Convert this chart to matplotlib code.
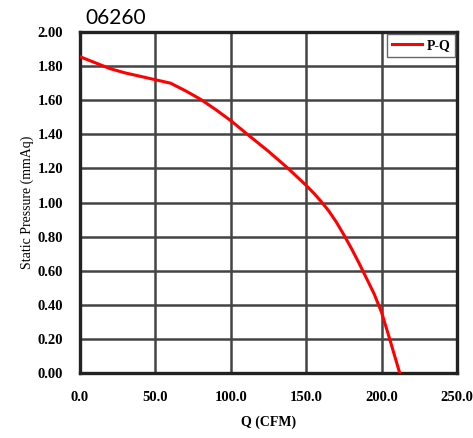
import matplotlib
matplotlib.use("Agg")
import matplotlib.pyplot as plt

# P-Q curve
flow_cfm = [0, 10, 20, 30, 40, 50, 60, 70, 80, 90, 100, 111, 125, 138,
            150, 155, 160, 165, 170, 175, 180, 185, 190, 195, 200, 205, 212]
pressure = [1.855, 1.82, 1.785, 1.76, 1.74, 1.72, 1.70, 1.655, 1.605, 1.545, 1.48, 1.40, 1.30, 1.20,
            1.10, 1.055, 1.005, 0.95, 0.885, 0.81, 0.73, 0.645, 0.555, 0.465, 0.355, 0.21, 0.00]

x_ticks = [0, 50, 100, 150, 200, 250]
y_ticks = [0.0, 0.2, 0.4, 0.6, 0.8, 1.0, 1.2, 1.4, 1.6, 1.8, 2.0]

serif = ['Liberation Serif', 'DejaVu Serif']

fig = plt.figure(figsize=(4.73, 4.38), dpi=100)
ax = fig.add_axes([80 / 473, 1 - 373 / 438, 377 / 473, 341 / 438])

ax.plot(flow_cfm, pressure, color='#ff0000', linewidth=2.2, label='P-Q', zorder=3)

ax.set_xlim(0, 250)
ax.set_ylim(0, 2.0)
ax.set_xticks(x_ticks)
ax.set_yticks(y_ticks)
ax.set_xticklabels([f"{v:.1f}" for v in x_ticks], family=serif, fontweight='bold', fontsize=10.5)
ax.set_yticklabels([f"{v:.2f}" for v in y_ticks], family=serif, fontweight='bold', fontsize=10.5)
ax.tick_params(axis='both', length=0)
ax.tick_params(axis='y', pad=12)
ax.tick_params(axis='x', pad=13)

ax.grid(True, color='#444444', linewidth=1.8, zorder=1)
for s in ax.spines.values():
    s.set_linewidth(2.4)
    s.set_color('#222222')

ax.set_xlabel('Q (CFM)', family=serif, fontweight='bold', fontsize=10, labelpad=8)
ax.set_ylabel('Static Pressure (mmAq)', family=serif, fontsize=10, labelpad=3)

leg = ax.legend(loc='upper right', prop={'family': serif, 'weight': 'bold', 'size': 10},
                fancybox=False, framealpha=1, edgecolor='#666666', handlelength=2.2,
                borderaxespad=0.15, handletextpad=0.3, borderpad=0.35)
leg.get_frame().set_linewidth(1.0)

fig.text(85 / 473, 1 - 18 / 438, '06260', family=['Lato', 'DejaVu Sans'], fontsize=15,
         va='center', ha='left')

fig.savefig('out.png', dpi=100)
